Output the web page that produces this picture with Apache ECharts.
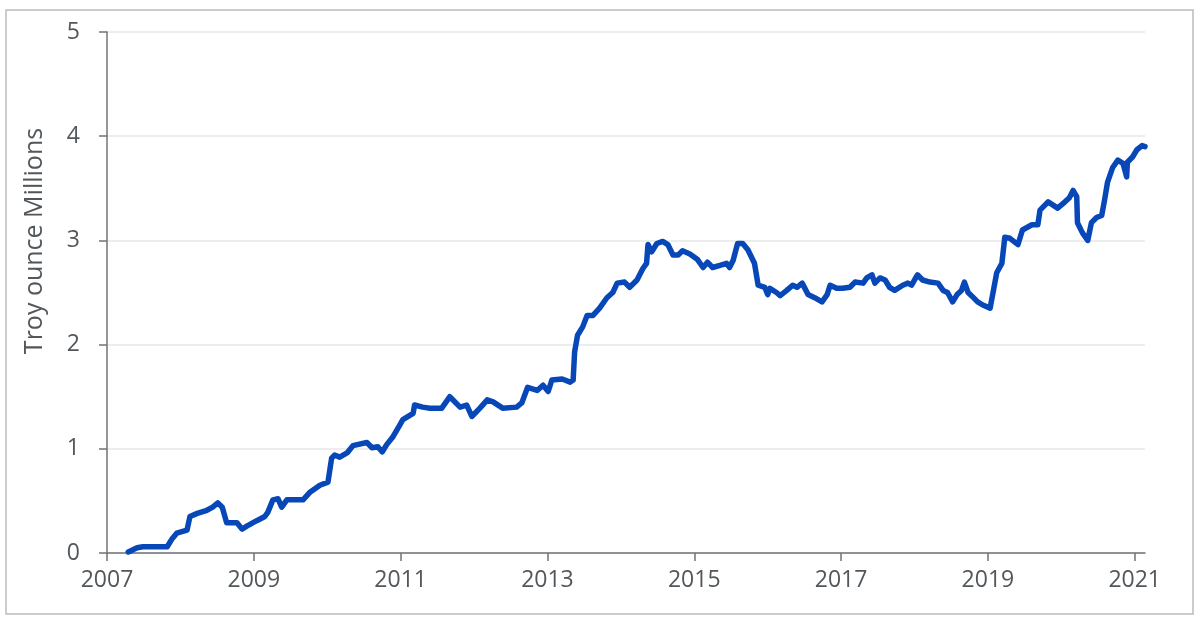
<!DOCTYPE html>
<html>
<head>
<meta charset="utf-8">
<script src="https://cdn.jsdelivr.net/npm/echarts@6/dist/echarts.min.js"></script>
<style>
  html, body { margin: 0; padding: 0; background: #fff; }
  #chart { width: 1200px; height: 629px; }
</style>
</head>
<body>
<div id="chart"></div>
<script>
// 年份（小数表示）和持有量（百万盎司）
var years = [
    2007.29, 2007.41, 2007.49, 2007.82, 2007.89, 2007.95, 2008.09, 2008.13, 2008.23, 2008.36,
    2008.44, 2008.51, 2008.57, 2008.63, 2008.77, 2008.84, 2008.91, 2009.04, 2009.15, 2009.19,
    2009.26, 2009.33, 2009.38, 2009.45, 2009.67, 2009.76, 2009.90, 2010.01, 2010.06, 2010.10,
    2010.17, 2010.27, 2010.35, 2010.54, 2010.61, 2010.69, 2010.75, 2010.81, 2010.89, 2010.99,
    2011.03, 2011.17, 2011.19, 2011.30, 2011.40, 2011.56, 2011.67, 2011.81, 2011.90, 2011.97,
    2012.08, 2012.18, 2012.26, 2012.39, 2012.58, 2012.65, 2012.73, 2012.86, 2012.94, 2013.01,
    2013.06, 2013.20, 2013.31, 2013.35, 2013.37, 2013.41, 2013.48, 2013.54, 2013.62, 2013.71,
    2013.81, 2013.89, 2013.95, 2014.05, 2014.12, 2014.22, 2014.30, 2014.35, 2014.37, 2014.42,
    2014.49, 2014.57, 2014.64, 2014.71, 2014.78, 2014.84, 2014.94, 2015.04, 2015.12, 2015.18,
    2015.25, 2015.35, 2015.44, 2015.48, 2015.53, 2015.59, 2015.66, 2015.73, 2015.82, 2015.87,
    2015.96, 2016.00, 2016.03, 2016.12, 2016.17, 2016.26, 2016.34, 2016.40, 2016.47, 2016.55,
    2016.64, 2016.74, 2016.81, 2016.85, 2016.94, 2017.02, 2017.12, 2017.19, 2017.30, 2017.35,
    2017.42, 2017.46, 2017.53, 2017.60, 2017.66, 2017.73, 2017.84, 2017.91, 2017.96, 2018.04,
    2018.11, 2018.21, 2018.32, 2018.39, 2018.45, 2018.52, 2018.58, 2018.64, 2018.68, 2018.73,
    2018.79, 2018.86, 2018.93, 2019.03, 2019.07, 2019.12, 2019.19, 2019.23, 2019.30, 2019.41,
    2019.47, 2019.60, 2019.68, 2019.71, 2019.82, 2019.95, 2020.05, 2020.11, 2020.16, 2020.21,
    2020.22, 2020.29, 2020.36, 2020.41, 2020.48, 2020.55, 2020.59, 2020.63, 2020.70, 2020.77,
    2020.84, 2020.89, 2020.90, 2020.97, 2021.03, 2021.10, 2021.14
];
var holdings = [
    0.01, 0.05, 0.06, 0.06, 0.14, 0.19, 0.22, 0.35, 0.38, 0.41,
    0.44, 0.48, 0.44, 0.29, 0.29, 0.23, 0.26, 0.31, 0.35, 0.39,
    0.51, 0.52, 0.44, 0.51, 0.51, 0.58, 0.65, 0.68, 0.91, 0.94,
    0.92, 0.96, 1.03, 1.06, 1.01, 1.02, 0.97, 1.04, 1.11, 1.23,
    1.28, 1.34, 1.42, 1.40, 1.39, 1.39, 1.50, 1.40, 1.42, 1.31,
    1.39, 1.47, 1.45, 1.39, 1.40, 1.44, 1.59, 1.56, 1.61, 1.55,
    1.66, 1.67, 1.64, 1.66, 1.93, 2.09, 2.17, 2.28, 2.28, 2.35,
    2.45, 2.50, 2.59, 2.60, 2.55, 2.62, 2.73, 2.78, 2.96, 2.89,
    2.97, 2.99, 2.96, 2.86, 2.86, 2.90, 2.87, 2.82, 2.74, 2.79,
    2.74, 2.76, 2.78, 2.74, 2.81, 2.97, 2.97, 2.91, 2.78, 2.57,
    2.55, 2.48, 2.54, 2.50, 2.47, 2.52, 2.57, 2.55, 2.59, 2.48,
    2.45, 2.41, 2.48, 2.57, 2.54, 2.54, 2.55, 2.60, 2.59, 2.64,
    2.67, 2.59, 2.64, 2.62, 2.55, 2.52, 2.57, 2.59, 2.57, 2.67,
    2.62, 2.60, 2.59, 2.52, 2.50, 2.41, 2.48, 2.52, 2.60, 2.50,
    2.46, 2.41, 2.38, 2.35, 2.50, 2.69, 2.78, 3.03, 3.02, 2.96,
    3.10, 3.15, 3.15, 3.29, 3.37, 3.31, 3.37, 3.41, 3.48, 3.42,
    3.17, 3.07, 3.00, 3.17, 3.22, 3.24, 3.39, 3.56, 3.70, 3.77,
    3.74, 3.61, 3.75, 3.80, 3.87, 3.91, 3.90
];
var xTicks = [2007, 2009, 2011, 2013, 2015, 2017, 2019, 2021];
var yTicks = [0, 1, 2, 3, 4, 5];

var seriesData = [];
for (var i = 0; i < years.length; i++) {
    seriesData.push([years[i], holdings[i]]);
}

var myChart = echarts.init(document.getElementById('chart'));

var axisColor = '#6f7478';
var labelColor = '#52575b';
var fontName = 'Open Sans';

var option = {
    animation: false,
    grid: {
        left: 107,
        right: 55,
        top: 32,
        bottom: 76
    },
    graphic: [
        {
            type: 'rect',
            shape: { x: 6, y: 10, width: 1187, height: 604 },
            style: { fill: 'none', stroke: '#b9bcbf', lineWidth: 1.5 },
            silent: true
        },
        {
            type: 'text',
            x: 35,
            y: 241,
            rotation: Math.PI / 2,
            style: {
                text: 'Troy ounce Millions',
                fill: labelColor,
                fontSize: 25,
                fontFamily: fontName,
                textAlign: 'center',
                textVerticalAlign: 'middle'
            }
        }
    ],
    xAxis: {
        type: 'value',
        min: 2007,
        max: 2021.14,
        axisLine: { show: true, lineStyle: { color: axisColor, width: 1.5 } },
        axisTick: {
            show: true,
            length: 8,
            customValues: xTicks,
            lineStyle: { color: axisColor, width: 1.5 }
        },
        axisLabel: {
            customValues: xTicks,
            margin: 16,
            color: labelColor,
            fontSize: 23,
            fontFamily: fontName,
            formatter: function (v) { return String(v); }
        },
        splitLine: { show: false }
    },
    yAxis: {
        type: 'value',
        min: 0,
        max: 5,
        interval: 1,
        axisLine: { show: true, lineStyle: { color: axisColor, width: 1.5 } },
        axisTick: { show: true, length: 8, lineStyle: { color: axisColor, width: 1.5 } },
        axisLabel: {
            margin: 27,
            color: labelColor,
            fontSize: 23,
            fontFamily: fontName
        },
        splitLine: { show: true, lineStyle: { color: '#e6e8e9', width: 1.5 } }
    },
    series: [
        {
            name: 'holdings',
            type: 'line',
            data: seriesData,
            showSymbol: false,
            symbol: 'none',
            smooth: false,
            lineStyle: { color: '#0747b8', width: 5.5, cap: 'round', join: 'round' }
        }
    ]
};

myChart.setOption(option);
</script>
</body>
</html>
